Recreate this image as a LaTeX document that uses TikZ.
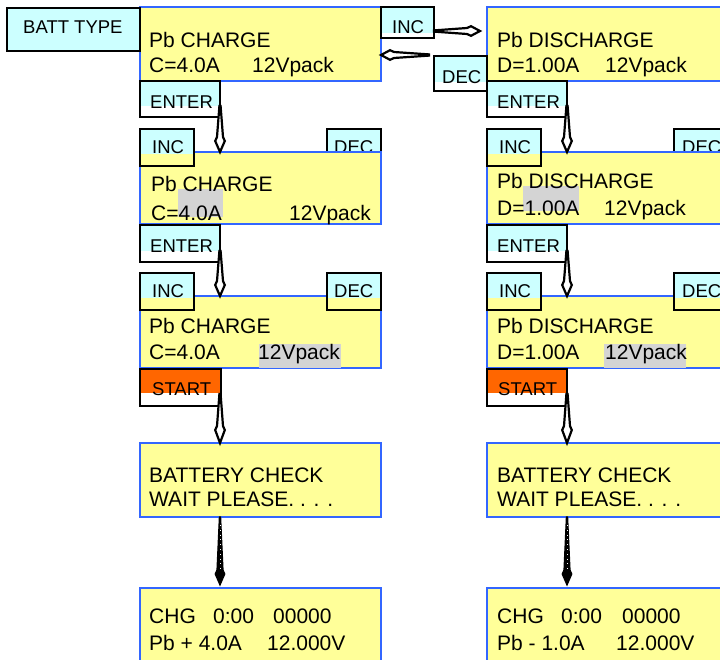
\documentclass[tikz,border=0pt]{standalone}
\usepackage{fontspec}
\setmainfont{Liberation Sans}
\usetikzlibrary{calc}
\definecolor{lcdyellow}{HTML}{FFFF99}
\definecolor{keycyan}{HTML}{CCFFFF}
\definecolor{scrblue}{HTML}{3366FF}
\definecolor{hlgray}{HTML}{D4D4D4}
\definecolor{startorange}{HTML}{FF6600}
\def\keystrip{11pt}
\tikzset{
 screen/.style={rectangle, draw=scrblue, line width=1.3pt, fill=lcdyellow, inner sep=0pt, outer sep=0pt, anchor=north west, minimum width=241pt, minimum height=#1},
 screen/.default=72pt,
 keystrip/.code={\def\keystrip{#1}},
 key/.style={rectangle, draw=black, line width=1.5pt, inner sep=0pt, outer sep=0pt, anchor=north west,
   path picture={\fill[#1] (path picture bounding box.north west) rectangle ([yshift=\keystrip]path picture bounding box.south east);}},
 key/.default=keycyan,
 typekey/.style={rectangle, draw=black, line width=1.5pt, fill=keycyan, inner sep=0pt, outer sep=0pt, anchor=north west},
 txt/.style={font=\fontsize{21}{25}\selectfont, anchor=base west, inner sep=0pt},
 ktxt/.style={font=\fontsize{18.5}{22}\selectfont, anchor=base west, inner sep=0pt},
 hl/.style={fill=hlgray, draw=none},
 spearw/.style={fill=white, draw=black, line width=2.2pt, line join=miter, miter limit=20},
 spearb/.style={fill=black, draw=black, line width=1.2pt, line join=miter, miter limit=20},
}
% spear-shaped connector: #1 start, #2 tip, #3 style, #4 head length
\newcommand\spearto[4]{%
  \path coordinate (sph) at ($(#2)!#4!(#1)$)
        coordinate (spb) at ($(#2)!#4-4pt!(#1)$);
  \filldraw[#3] ($(#1)!0.6pt!90:(#2)$) -- ($(sph)!3pt!90:(#2)$) -- ($(spb)!4.8pt!90:(#2)$) -- (#2)
     -- ($(spb)!4.8pt!-90:(#2)$) -- ($(sph)!3pt!-90:(#2)$) -- ($(#1)!0.6pt!-90:(#2)$) -- cycle;}
\begin{document}
\begin{tikzpicture}[x=1pt,y=-1pt]
\useasboundingbox (0,0) rectangle (720,659);
\clip (0,0) rectangle (720,659);

% ---------------- Row 1 ----------------
\node[screen=74pt] (box1) at (140,7) {};
\node[screen=74pt] (box2) at (487,7) {};
\node[typekey, minimum width=133pt, minimum height=43pt] (btype) at (7,8) {};
\node[ktxt] (btypet) at (23,33) {BATT TYPE};
\node[txt] (b1a) at (149,47) {Pb CHARGE};
\node[txt] (b1b) at (149,72) {C=4.0A};
\node[txt] (b1c) at (252,72) {12Vpack};
\node[txt] (b2a) at (497,47) {Pb DISCHARGE};
\node[txt] (b2b) at (497,72) {D=1.00A};
\node[txt] (b2c) at (605,72) {12Vpack};
\node[key, keystrip=5pt, minimum width=53pt, minimum height=31pt] (inc0) at (381,7) {};
\node[ktxt] (inc0t) at (392,33) {INC};
\node[key, keystrip=9pt, minimum width=53pt, minimum height=35pt] (dec0) at (434,56) {};
\node[ktxt] (dec0t) at (442,83) {DEC};
\node[key, minimum width=80pt, minimum height=36pt] (enter1) at (140,81) {};
\node[ktxt] (enter1t) at (150,108) {ENTER};
\node[key, minimum width=80pt, minimum height=36pt] (enter2) at (487,81) {};
\node[ktxt] (enter2t) at (497,108) {ENTER};

% ---------------- Row 2 ----------------
\node[key, keystrip=12pt, minimum width=54pt, minimum height=37pt] (decL2) at (327,129) {};
\node[ktxt] (decL2t) at (334,153) {DEC};
\node[key, keystrip=12pt, minimum width=54pt, minimum height=37pt] (decR2) at (674,129) {};
\node[ktxt] (decR2t) at (682,153) {DEC};
\node[screen=72pt] (box3) at (140,152) {};
\node[screen=72pt] (box4) at (487,152) {};
\fill[hl] (178,189) rectangle (223,217);
\fill[hl] (523,186) rectangle (579,211);
\node[txt] (b3a) at (151,191) {Pb CHARGE};
\node[txt] (b3b) at (151,220) {C=4.0A};
\node[txt] (b3c) at (289,220) {12Vpack};
\node[txt] (b4a) at (497,188) {Pb DISCHARGE};
\node[txt] (b4b) at (497,215) {D=1.00A};
\node[txt] (b4c) at (604,215) {12Vpack};
\node[key, keystrip=12pt, minimum width=54pt, minimum height=37pt] (incL2) at (140,129) {};
\node[ktxt] (incL2t) at (152,153) {INC};
\node[key, keystrip=12pt, minimum width=54pt, minimum height=37pt] (incR2) at (487,129) {};
\node[ktxt] (incR2t) at (499,153) {INC};
\node[key, minimum width=80pt, minimum height=37pt] (enter3) at (140,225) {};
\node[ktxt] (enter3t) at (150,252) {ENTER};
\node[key, minimum width=80pt, minimum height=37pt] (enter4) at (487,225) {};
\node[ktxt] (enter4t) at (497,252) {ENTER};

% ---------------- Row 3 ----------------
\node[screen=72pt] (box5) at (140,296) {};
\node[screen=72pt] (box6) at (487,296) {};
\fill[hl] (259,344) rectangle (341,368);
\fill[hl] (604,344) rectangle (686,368);
\node[txt] (b5a) at (149,333) {Pb CHARGE};
\node[txt] (b5b) at (149,359) {C=4.0A};
\node[txt] (b5c) at (258,359) {12Vpack};
\node[txt] (b6a) at (497,333) {Pb DISCHARGE};
\node[txt] (b6b) at (497,359) {D=1.00A};
\node[txt] (b6c) at (605,359) {12Vpack};
\node[key, keystrip=12pt, minimum width=54pt, minimum height=37pt] (incL3) at (140,273) {};
\node[ktxt] (incL3t) at (152,297) {INC};
\node[key, keystrip=12pt, minimum width=54pt, minimum height=37pt] (decL3) at (327,273) {};
\node[ktxt] (decL3t) at (334,297) {DEC};
\node[key, keystrip=12pt, minimum width=54pt, minimum height=37pt] (incR3) at (487,273) {};
\node[ktxt] (incR3t) at (499,297) {INC};
\node[key, keystrip=12pt, minimum width=54pt, minimum height=37pt] (decR3) at (674,273) {};
\node[ktxt] (decR3t) at (682,297) {DEC};
\node[key=startorange, keystrip=13pt, minimum width=81pt, minimum height=37pt] (start1) at (140,369) {};
\node[ktxt] (start1t) at (152,395) {START};
\node[key=startorange, keystrip=13pt, minimum width=80pt, minimum height=37pt] (start2) at (487,369) {};
\node[ktxt] (start2t) at (498,395) {START};

% ---------------- Row 4 ----------------
\node[screen=74pt] (box7) at (140,443) {};
\node[screen=74pt] (box8) at (487,443) {};
\node[txt] (b7a) at (149,482) {BATTERY CHECK};
\node[txt] (b7b) at (149,506) {WAIT PLEASE. . . .};
\node[txt] (b8a) at (497,482) {BATTERY CHECK};
\node[txt] (b8b) at (497,506) {WAIT PLEASE. . . .};

% ---------------- Row 5 ----------------
\node[screen=74pt] (box9) at (140,588) {};
\node[screen=74pt] (box10) at (487,588) {};
\node[txt] (b9a) at (149,623) {CHG};
\node[txt] (b9b) at (213,623) {0:00};
\node[txt] (b9c) at (273,623) {00000};
\node[txt] (b9d) at (149,650) {Pb + 4.0A};
\node[txt] (b9e) at (267,650) {12.000V};
\node[txt] (b10a) at (497,623) {CHG};
\node[txt] (b10b) at (561,623) {0:00};
\node[txt] (b10c) at (622,623) {00000};
\node[txt] (b10d) at (497,650) {Pb - 1.0A};
\node[txt] (b10e) at (616,650) {12.000V};

% ---------------- Connectors ----------------
\coordinate (a1s) at ($(inc0.south east)+(0,-7)$);
\coordinate (a1t) at ($(box2.west |- a1s)+(-7,0)$);
\spearto{a1s}{a1t}{spearw}{13pt}
\coordinate (a2s) at ($(dec0.north west)+(-5,-1)$);
\coordinate (a2t) at (box1.east |- a2s);
\spearto{a2s}{a2t}{spearw}{13pt}

\coordinate (a3s) at ($(enter1.south east)+(0,-11)$);
\coordinate (a3t) at (enter1.east |- box3.north);
\spearto{a3s}{a3t}{spearw}{15pt}
\coordinate (a4s) at ($(enter2.south east)+(0,-11)$);
\coordinate (a4t) at (enter2.east |- box4.north);
\spearto{a4s}{a4t}{spearw}{15pt}

\coordinate (a5s) at ($(enter3.south east)+(0,-11)$);
\coordinate (a5t) at (enter3.east |- box5.north);
\spearto{a5s}{a5t}{spearw}{15pt}
\coordinate (a6s) at ($(enter4.south east)+(0,-11)$);
\coordinate (a6t) at (enter4.east |- box6.north);
\spearto{a6s}{a6t}{spearw}{15pt}

\coordinate (a7s) at ($(start1.south east)+(-1,-12)$);
\coordinate (a7t) at (a7s |- box7.north);
\spearto{a7s}{a7t}{spearw}{17pt}
\coordinate (a8s) at ($(start2.south east)+(0,-12)$);
\coordinate (a8t) at (a8s |- box8.north);
\spearto{a8s}{a8t}{spearw}{17pt}

\coordinate (a9s) at (a7s |- box7.south);
\coordinate (a9t) at ($(a7s |- box9.north)+(0,-3)$);
\spearto{a9s}{a9t}{spearb}{15pt}
\draw[white, line width=0.9pt, dash pattern=on 0.8pt off 4pt] ($(a9s)!8pt!(a9t)$) -- ($(a9t)!14pt!(a9s)$);
\coordinate (a10s) at (a8s |- box8.south);
\coordinate (a10t) at ($(a8s |- box10.north)+(0,-3)$);
\spearto{a10s}{a10t}{spearb}{15pt}
\draw[white, line width=0.9pt, dash pattern=on 0.8pt off 4pt] ($(a10s)!8pt!(a10t)$) -- ($(a10t)!14pt!(a10s)$);
\end{tikzpicture}
\end{document}
